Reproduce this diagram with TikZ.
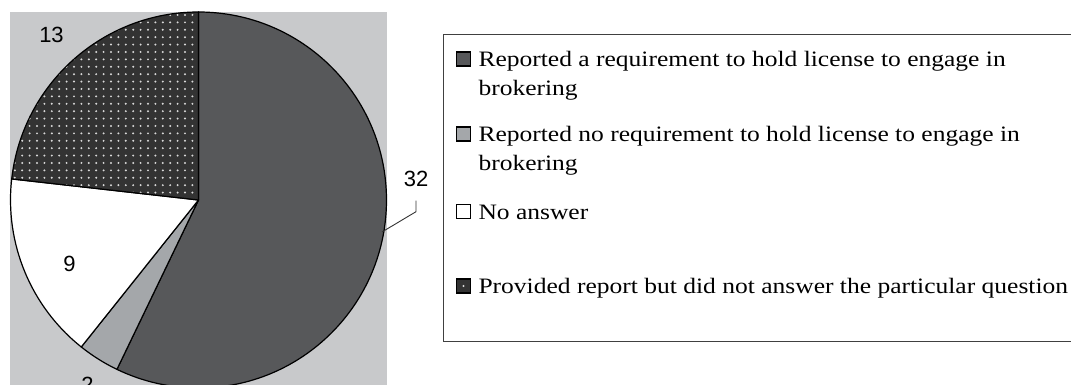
\documentclass[tikz,border=0pt]{standalone}
\usepackage{fontspec}
\usepackage{xcolor}
\usepackage{tikz}
\usetikzlibrary{positioning, patterns.meta}
\setmainfont{Liberation Serif}
\newfontfamily\keyfont[FakeStretch=1.16]{Liberation Serif}
\newfontfamily\numfont{Liberation Sans}
\definecolor{bgGray}{RGB}{200, 201, 203}
\definecolor{reqColor}{RGB}{87, 88, 90}
\definecolor{noreqColor}{RGB}{164, 167, 170}
\definecolor{nopartColor}{RGB}{51, 51, 51}

\begin{document}
\begin{tikzpicture}[x=0.5pt, y=0.5pt,
    slice/.style={draw=black, line width=0.6pt, line join=round},
    partslice/.style={slice, preaction={fill=nopartColor}, pattern={Dots[distance=3.7pt, radius=0.55pt]}, pattern color=white!85!black},
    num/.style={font=\numfont\fontsize{11pt}{13pt}\selectfont, inner sep=1pt},
    keymark/.style={rectangle, draw, line width=0.6pt, minimum size=7pt, inner sep=0pt},
    keytext/.style={font=\keyfont\fontsize{11pt}{14.5pt}\selectfont, align=left, inner sep=0pt},
    keybox/.style={rectangle, draw=black!75, line width=0.5pt, anchor=north west, minimum width=330pt, minimum height=153.5pt}]

    \useasboundingbox (0,0) rectangle (1071,385);
    \fill[bgGray] (10,0) rectangle (387,373);

    % pie, clockwise from the top: 32, 2, 9, 13 (of 56)
    \coordinate (c) at (198.5,185);
    \draw[slice, fill=reqColor] (c) -- ++(90:188) arc[start angle=90, end angle=-115.714, radius=188] -- cycle;
    \draw[slice, fill=noreqColor] (c) -- ++(-115.714:188) arc[start angle=-115.714, end angle=-128.571, radius=188] -- cycle;
    \draw[slice, fill=white] (c) -- ++(-128.571:188) arc[start angle=-128.571, end angle=-186.429, radius=188] -- cycle;
    \draw[partslice] (c) -- ++(-186.429:188) arc[start angle=-186.429, end angle=-270, radius=188] -- cycle;

    \node (n13) [num] at (51.5,350) {13};
    \node (n9) [num] at (69.5,121.5) {9};
    \node (n2) [num] at (87.5,0) {2};
    \node (n32) [num] at (416,206.5) {32};
    \coordinate (tip32) at (382,153);
    \draw[black!80, line width=0.45pt] ([yshift=-6pt]n32.south) -- ++(0,-11) -- (tip32);

    % legend (two-line texts: base is the last line, so drop by one line)
    \node (key) [keybox] at (443,351) {};
    \node (k1) [keymark, fill=reqColor] at (463.5,326) {};
    \node (t1) [keytext, right=3.5pt of k1.south east, anchor=base west, yshift=-14.5pt] {Reported a requirement to hold license to engage in\\brokering};
    \node (k2) [keymark, fill=noreqColor] at (463.5,251) {};
    \node (t2) [keytext, right=3.5pt of k2.south east, anchor=base west, yshift=-14.5pt] {Reported no requirement to hold license to engage in\\brokering};
    \node (k3) [keymark, fill=white] at (463.5,173.5) {};
    \node (t3) [keytext, right=3.5pt of k3.south east, anchor=base west] {No answer};
    \node (k4) [keymark, fill=nopartColor, path picture={\fill[white!85!black] (path picture bounding box.center) circle (0.55pt);}] at (463.5,99) {};
    \node (t4) [keytext, right=3.5pt of k4.south east, anchor=base west] {Provided report but did not answer the particular question};

\end{tikzpicture}
\end{document}
